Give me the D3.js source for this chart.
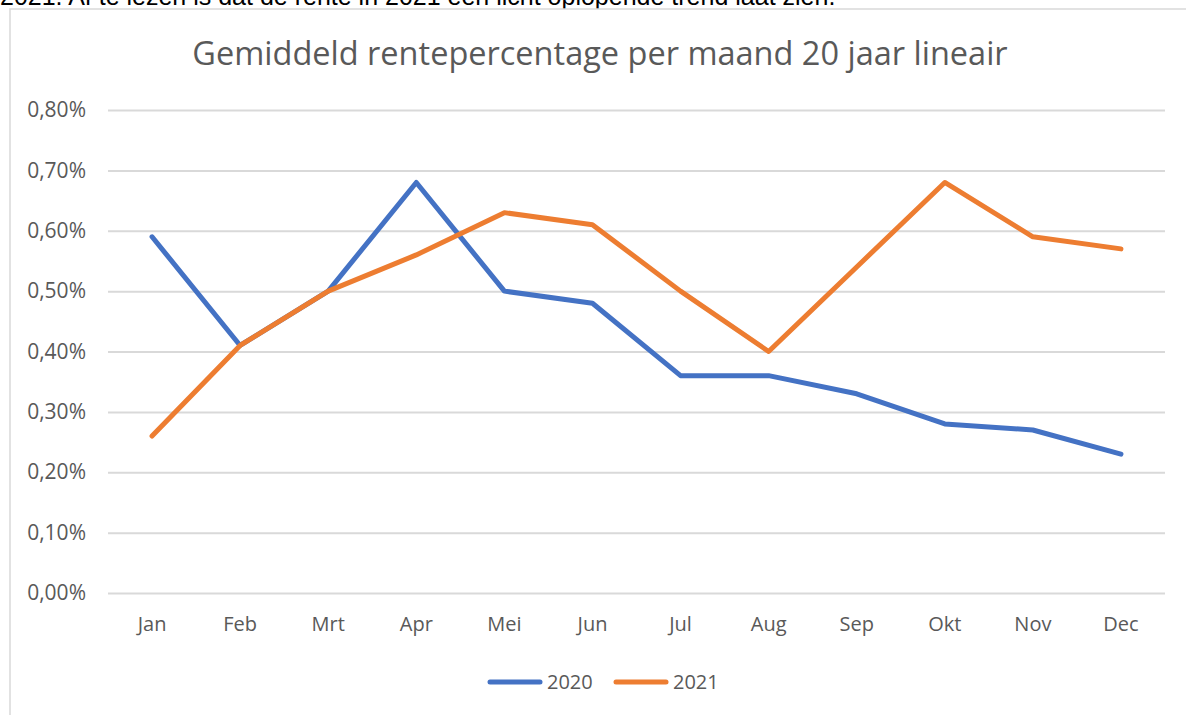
<!DOCTYPE html>
<html>
<head>
<meta charset="utf-8">
<script src="https://cdn.jsdelivr.net/npm/d3@7"></script>
<style>
  body { margin: 0; background: #fff; }
  svg { display: block; }
</style>
</head>
<body>
<div id="chart"></div>
<script>
// data
var months = ["Jan", "Feb", "Mrt", "Apr", "Mei", "Jun", "Jul", "Aug", "Sep", "Okt", "Nov", "Dec"];
var rente2020 = [0.0059, 0.0041, 0.0050, 0.0068, 0.0050, 0.0048, 0.0036, 0.0036, 0.0033, 0.0028, 0.0027, 0.0023];
var rente2021 = [0.0026, 0.0041, 0.0050, 0.0056, 0.0063, 0.0061, 0.0050, 0.0040, 0.0054, 0.0068, 0.0059, 0.0057];
var yTicks = [0, 0.001, 0.002, 0.003, 0.004, 0.005, 0.006, 0.007, 0.008];
var seriesNames = ["2020", "2021"];
var colors = ["#4472C4", "#ED7D31"];

var svgWidth = 1186;
var svgHeight = 715;

var margin = { top: 110, right: 21, bottom: 122, left: 108 };
var width = svgWidth - margin.left - margin.right;
var height = svgHeight - margin.top - margin.bottom;

var svg = d3.select("#chart")
    .append("svg")
    .attr("width", svgWidth)
    .attr("height", svgHeight);

// sentence above the chart (cut off by the top edge, as in the screenshot)
svg.append("text")
    .attr("x", 0)
    .attr("y", 5)
    .style("font-family", "'Liberation Sans', Arial, sans-serif")
    .style("font-size", "25px")
    .style("fill", "#000")
    .text("2021. Af te lezen is dat de rente in 2021 een licht oplopende trend laat zien.");

// chart frame
svg.append("rect")
    .attr("x", 10)
    .attr("y", 9)
    .attr("width", 1200)
    .attr("height", 800)
    .attr("fill", "#fff")
    .attr("stroke", "#d9d9d9")
    .attr("stroke-width", 1.5);

// title
svg.append("text")
    .attr("x", 600)
    .attr("y", 65)
    .attr("text-anchor", "middle")
    .style("font-family", "'Open Sans', sans-serif")
    .style("font-size", "32.5px")
    .style("fill", "#595959")
    .text("Gemiddeld rentepercentage per maand 20 jaar lineair");

var chartGroup = svg.append("g")
    .attr("transform", `translate(${margin.left}, ${margin.top})`);

var nl = d3.formatLocale({ decimal: ",", thousands: ".", grouping: [3], currency: ["€", ""] });
var pct = nl.format(".2%");

var xScale = d3.scaleBand()
    .domain(months)
    .range([0, width]);

var yScale = d3.scaleLinear()
    .domain([0, 0.008])
    .range([height, 0]);

// gridlines + y labels
var leftAxis = d3.axisLeft(yScale)
    .tickValues(yTicks)
    .tickFormat(pct)
    .tickSize(-width)
    .tickPadding(22);

var yAxis = chartGroup.append("g").call(leftAxis);
yAxis.select(".domain").remove();
yAxis.selectAll("line")
    .attr("stroke", "#d9d9d9")
    .attr("stroke-width", 2);
yAxis.selectAll("text")
    .style("font-family", "'Open Sans', sans-serif")
    .style("font-size", "21px")
    .style("fill", "#595959");

// month labels
var bottomAxis = d3.axisBottom(xScale).tickSize(0).tickPadding(24);
var xAxis = chartGroup.append("g")
    .attr("transform", `translate(0, ${height})`)
    .call(bottomAxis);
xAxis.select(".domain").remove();
xAxis.selectAll("text")
    .style("font-family", "'Open Sans', sans-serif")
    .style("font-size", "20px")
    .style("fill", "#595959");

// lines
var line = d3.line()
    .x((d, i) => xScale(months[i]) + xScale.bandwidth() / 2)
    .y(d => yScale(d));

[rente2020, rente2021].forEach(function (values, i) {
    chartGroup.append("path")
        .datum(values)
        .attr("fill", "none")
        .attr("stroke", colors[i])
        .attr("stroke-width", 5)
        .attr("stroke-linejoin", "round")
        .attr("stroke-linecap", "round")
        .attr("d", line);
});

// legend
var legend = svg.append("g")
    .attr("transform", "translate(490, 682)");

seriesNames.forEach(function (name, i) {
    var g = legend.append("g").attr("transform", `translate(${i * 126}, 0)`);
    g.append("line")
        .attr("x1", 0)
        .attr("x2", 50)
        .attr("stroke", colors[i])
        .attr("stroke-width", 5)
        .attr("stroke-linecap", "round");
    g.append("text")
        .attr("x", 57)
        .attr("y", 7)
        .style("font-family", "'Open Sans', sans-serif")
        .style("font-size", "20px")
        .style("fill", "#595959")
        .text(name);
});
</script>
</body>
</html>
